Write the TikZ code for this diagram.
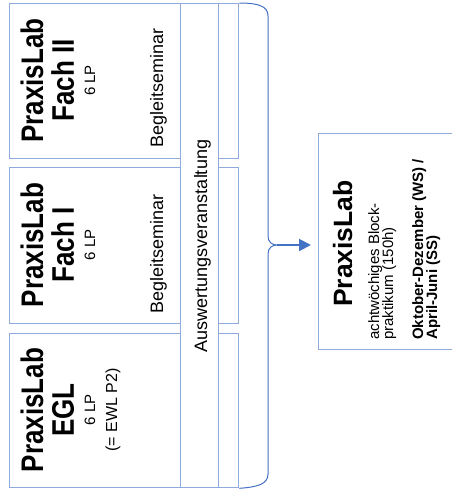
\documentclass[tikz,border=0pt]{standalone}
\usepackage{fontspec}
\setmainfont{Liberation Sans}
\usepackage{xcolor}
\usepackage{graphicx}
\usetikzlibrary{arrows.meta,positioning,calc}
\definecolor{praxisblau}{HTML}{4472C4}
\definecolor{praxishell}{HTML}{8FAADC}
\newcommand{\hoch}[1]{\scalebox{1}[1.2]{#1}}

\begin{document}
\begin{tikzpicture}[
    x=1pt,y=-1pt,
    kasten/.style  = {draw=praxishell, line width=1.3pt, fill=white,
                      inner sep=0pt, anchor=north west},
    titel/.style   = {rotate=90, anchor=base, inner sep=0pt,
                      font=\fontsize{26}{31}\selectfont\bfseries},
    klein/.style   = {rotate=90, anchor=base, inner sep=0pt,
                      font=\fontsize{15}{18}\selectfont},
    seminar/.style = {rotate=90, anchor=base west, inner sep=0pt,
                      font=\fontsize{18}{22}\selectfont},
    info/.style    = {rotate=90, anchor=base west, inner sep=0pt,
                      font=\fontsize{15}{18}\selectfont},
    klammer/.style = {praxisblau, line width=1pt},
    pfeil/.style   = {-{Triangle[length=12pt,width=12pt]}, praxisblau,
                      line width=2pt, shorten >=7pt},
  ]

  \useasboundingbox (0,0) rectangle (452,491);

  % ── Module links ────────────────────────────────────────────────────────
  \node[kasten, minimum width=229pt, minimum height=155pt] (fachzwei) at (9,3)   {};
  \node[kasten, minimum width=229pt, minimum height=156pt] (fachein)  at (9,167) {};
  \node[kasten, minimum width=229pt, minimum height=154pt] (egl)      at (9,333) {};

  % ── Auswertungsveranstaltung (durchgehender Streifen) ───────────────────
  \node[kasten, minimum width=38pt, minimum height=484pt] (auswertung) at (180,3) {};
  \node[seminar, anchor=base] (auswertung-text) at (207,246) {Auswertungsveranstaltung};

  % ── Beschriftung der Module ─────────────────────────────────────────────
  \node[titel] (fachzwei-a)   at (43,80.5) {\hoch{PraxisLab}};
  \node[titel] (fachzwei-b)   at (74,80.5) {\hoch{Fach II}};
  \node[klein] (fachzwei-lp)  at (95,80.5) {6 LP};
  \node[seminar] (fachzwei-sem) at (163,148) {Begleitseminar};

  \node[titel] (fachein-a)    at (43,245) {\hoch{PraxisLab}};
  \node[titel] (fachein-b)    at (74,245) {\hoch{Fach I}};
  \node[klein] (fachein-lp)   at (95,245) {6 LP};
  \node[seminar] (fachein-sem) at (163,314) {Begleitseminar};

  \node[titel] (egl-a)        at (43,410) {\hoch{PraxisLab}};
  \node[titel] (egl-b)        at (74,410) {\hoch{EGL}};
  \node[klein] (egl-lp)       at (95,410) {6 LP};
  \node[klein, font=\fontsize{16}{19}\selectfont] (egl-ewl) at (117,410) {(= EWL P2)};

  % ── Klammer und Pfeil ───────────────────────────────────────────────────
  \coordinate (spitze) at (277,245);
  \draw[klammer] (fachzwei.north east) .. controls (258,3) and (268,6) .. (268,16)
       -- (268,236) .. controls (268,242) and (272,245) .. (spitze)
       .. controls (272,245) and (268,248) .. (268,254)
       -- (268,474) .. controls (268,484) and (258,487) .. (egl.south east);

  % ── Blockpraktikum rechts ───────────────────────────────────────────────
  \node[kasten, minimum width=142pt, minimum height=216pt] (praxis) at (318,133) {};
  \node[titel, font=\fontsize{26.5}{31}\selectfont\bfseries] (praxis-a) at (352,243.5) {PraxisLab};
  \node[info] (praxis-b) at (379,340) {achtwöchiges Block-};
  \node[info] (praxis-c) at (393,340) {praktikum (150h)};
  \node[info, font=\fontsize{15}{18}\selectfont\bfseries] (praxis-d) at (423,340) {Oktober-Dezember (WS) /};
  \node[info, font=\fontsize{15}{18}\selectfont\bfseries] (praxis-e) at (437,340) {April-Juni (SS)};

  \draw[pfeil] (spitze) -- (spitze -| praxis.west);

\end{tikzpicture}
\end{document}
